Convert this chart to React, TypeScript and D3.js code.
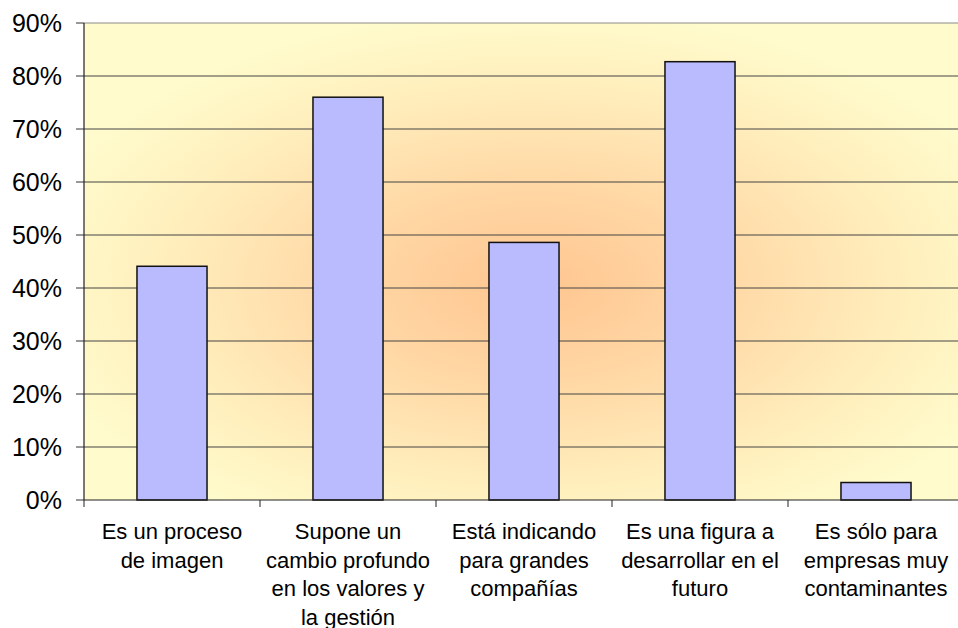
import React from "react";
import * as d3 from "d3";

const categories = [
  "Es un proceso\nde imagen",
  "Supone un\ncambio profundo\nen los valores y\nla gestión",
  "Está indicando\npara grandes\ncompañías",
  "Es una figura a\ndesarrollar en el\nfuturo",
  "Es sólo para\nempresas muy\ncontaminantes",
];
const values = [0.441, 0.76, 0.486, 0.827, 0.033];
const yTicks = [0, 0.1, 0.2, 0.3, 0.4, 0.5, 0.6, 0.7, 0.8, 0.9];

const W = 958;
const H = 628;
const left = 84;
const right = 964;
const top = 23;
const bottom = 500;

export default function App() {
  const x = d3
    .scaleBand<string>()
    .domain(categories)
    .range([left, right])
    .paddingInner(0.602)
    .paddingOuter(0.301);
  const y = d3.scaleLinear().domain([0, 0.9]).range([bottom, top]);
  const step = x.step();
  const fmt = d3.format(".0%");
  const font = "'Liberation Sans', Arial, sans-serif";

  return (
    <svg
      width={W}
      height={H}
      style={{ position: "absolute", left: 0, top: 0, background: "#fff" }}
    >
      <defs>
        <radialGradient id="bg" cx="0.51" cy="0.55" r="0.58">
          <stop offset="0" stopColor="#FFC590" />
          <stop offset="0.35" stopColor="#FFD7A4" />
          <stop offset="0.75" stopColor="#FFF0BE" />
          <stop offset="1" stopColor="#FFFBCC" />
        </radialGradient>
      </defs>
      <rect x={left} y={top} width={right - left} height={bottom - top} fill="url(#bg)" />
      {yTicks.map((t) => (
        <g key={t}>
          {t > 0 && (
            <line
              x1={left}
              x2={right}
              y1={y(t)}
              y2={y(t)}
              stroke={t === 0.9 ? "#8a8a8a" : "#444"}
              strokeWidth={1}
            />
          )}
          <line x1={76} x2={left} y1={y(t)} y2={y(t)} stroke="#333" strokeWidth={1} />
          <text
            x={62}
            y={y(t)}
            textAnchor="end"
            dominantBaseline="central"
            fontFamily={font}
            fontSize={25}
            fill="#000"
          >
            {fmt(t)}
          </text>
        </g>
      ))}
      {categories.map((c, i) => (
        <rect
          key={c}
          x={x(c)!}
          y={y(values[i])}
          width={x.bandwidth()}
          height={bottom - y(values[i])}
          fill="#BABAFF"
          stroke="#111"
          strokeWidth={1.5}
        />
      ))}
      <line x1={left} x2={left} y1={top} y2={bottom} stroke="#222" strokeWidth={1.2} />
      <line x1={left} x2={right} y1={bottom} y2={bottom} stroke="#222" strokeWidth={1.2} />
      {categories.map((c, i) => (
        <line
          key={"t" + i}
          x1={left + i * step}
          x2={left + i * step}
          y1={bottom}
          y2={bottom + 7}
          stroke="#222"
          strokeWidth={1}
        />
      ))}
      {categories.map((c) => {
        const cx = x(c)! + x.bandwidth() / 2;
        return (
          <text
            key={"l" + c}
            x={cx}
            textAnchor="middle"
            fontFamily={font}
            fontSize={22}
            fill="#000"
          >
            {c.split("\n").map((line, j) => (
              <tspan key={j} x={cx} y={539 + j * 28.5}>
                {line}
              </tspan>
            ))}
          </text>
        );
      })}
    </svg>
  );
}
